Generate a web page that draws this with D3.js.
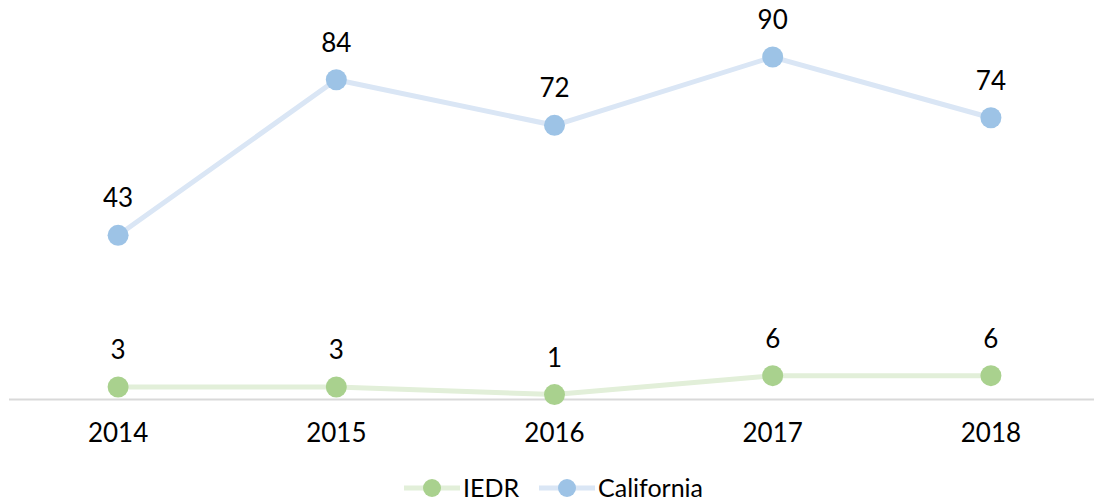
<!DOCTYPE html>
<html>
<head>
<meta charset="utf-8">
<script src="https://cdn.jsdelivr.net/npm/d3@7"></script>
<style>
  body { margin: 0; background: #fff; }
  text { font-family: 'Lato', 'DejaVu Sans', sans-serif; fill: #000; }
</style>
</head>
<body>
<div id="chart"></div>
<script>
var years = ['2014', '2015', '2016', '2017', '2018'];
var iedr = [3, 3, 1, 6, 6];
var california = [43, 84, 72, 90, 74];

var settings = {
  width: 1094,
  height: 502,
  left: 9,
  right: 1100,
  top: 19.1,
  baseline: 398.4,
  dot_r: 10.5,
  line_w: 5,
  font_size: 26,
  legend_font_size: 25
};

var series = [
  { name: 'IEDR', values: iedr, line: '#e2efd9', dot: '#a9d18e' },
  { name: 'California', values: california, line: '#dae6f5', dot: '#9dc3e6' }
];

var svg = d3.select('#chart').append('svg')
  .attr('width', settings.width)
  .attr('height', settings.height);

var x = d3.scaleBand().domain(years).range([settings.left, settings.right]).padding(0);
var y = d3.scaleLinear().domain([0, 100]).range([settings.baseline, settings.top]);
var cx = function(d, i) { return x(years[i]) + x.bandwidth() / 2; };

// axis
var xAxis = d3.axisBottom(x).tickSize(0).tickPadding(24);
var ax = svg.append('g')
  .attr('transform', 'translate(0,' + (settings.baseline + 1) + ')')
  .call(xAxis);
ax.select('.domain').attr('d', 'M' + settings.left + ',0H' + settings.width)
  .attr('stroke', '#d9d9d9').attr('stroke-width', 2);
ax.selectAll('text')
  .style('font-size', settings.font_size + 'px')
  .attr('fill', '#000');

var line = d3.line().x(cx).y(function(d) { return y(d); });

series.forEach(function(s) {
  var g = svg.append('g');
  g.append('path')
    .datum(s.values)
    .attr('d', line)
    .attr('fill', 'none')
    .attr('stroke', s.line)
    .attr('stroke-width', settings.line_w);
  g.selectAll('circle')
    .data(s.values)
    .enter().append('circle')
    .attr('cx', cx)
    .attr('cy', function(d) { return y(d); })
    .attr('r', settings.dot_r)
    .attr('fill', s.dot);
  g.selectAll('text')
    .data(s.values)
    .enter().append('text')
    .attr('x', cx)
    .attr('y', function(d) { return y(d) - 28; })
    .attr('text-anchor', 'middle')
    .style('font-size', settings.font_size + 'px')
    .text(function(d) { return d; });
});

// legend
var legend = svg.append('g').attr('transform', 'translate(0,488)');
var legX = [404, 539];
var legW = [56, 56];
series.forEach(function(s, i) {
  var lg = legend.append('g').attr('transform', 'translate(' + legX[i] + ',0)');
  lg.append('line')
    .attr('x1', 0).attr('x2', legW[i])
    .attr('y1', 0).attr('y2', 0)
    .attr('stroke', s.line)
    .attr('stroke-width', settings.line_w);
  lg.append('circle')
    .attr('cx', legW[i] / 2).attr('cy', 0)
    .attr('r', 9)
    .attr('fill', s.dot);
  lg.append('text')
    .attr('x', legW[i] + 3)
    .attr('y', 0)
    .attr('dy', '0.34em')
    .style('font-size', settings.legend_font_size + 'px')
    .text(s.name);
});
</script>
</body>
</html>
